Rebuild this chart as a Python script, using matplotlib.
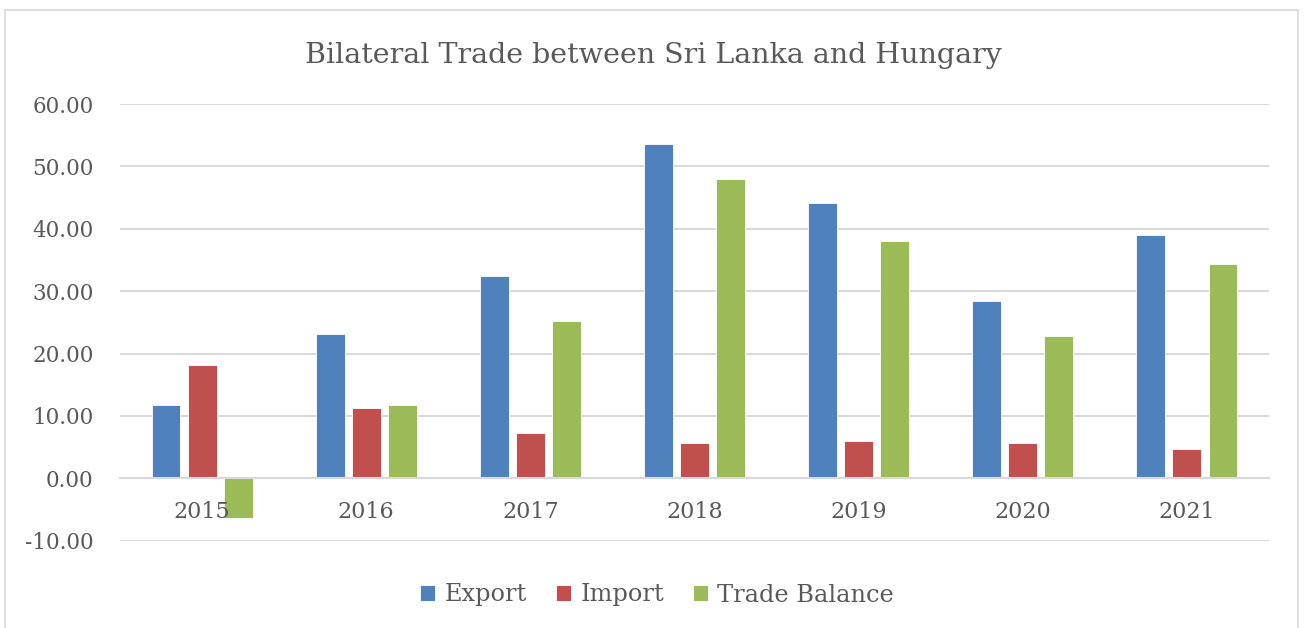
import matplotlib
matplotlib.use("Agg")
import matplotlib.pyplot as plt
from matplotlib.patches import Rectangle
import numpy as np

years = ["2015", "2016", "2017", "2018", "2019", "2020", "2021"]
export = [11.75, 23.1, 32.45, 53.65, 44.1, 28.45, 39.0]
imports = [18.1, 11.3, 7.25, 5.7, 6.05, 5.7, 4.7]
balance = [-6.3, 11.75, 25.2, 48.0, 38.0, 22.8, 34.3]

series = [("Export", export, "#4F81BD"),
          ("Import", imports, "#C0504D"),
          ("Trade Balance", balance, "#9BBB59")]

txt = "#595959"
grid = "#d9d9d9"
plt.rcParams['font.family'] = ['DejaVu Serif']

fig = plt.figure(figsize=(13.06, 6.28), dpi=100)
ax = fig.add_axes([120/1306, 1-540.7/628, 1149/1306, 436.7/628])

x = np.arange(len(years))
w = 0.176
step = 0.22
for i, (name, vals, col) in enumerate(series):
	ax.bar(x + (i - 1) * step, vals, w, color=col, edgecolor="white",
	       linewidth=0.6, label=name, zorder=3)

ax.set_xlim(-0.5, len(years) - 0.5)
ax.set_ylim(-10, 60)
ax.set_yticks(np.arange(-10, 61, 10))
ax.set_yticklabels(["%.2f" % v for v in np.arange(-10, 61, 10)])
ax.set_xticks(x)
ax.set_xticklabels(years)
ax.tick_params(axis="y", length=0, pad=19, labelsize=15.5, labelcolor=txt)
ax.tick_params(axis="x", length=0, pad=16, labelsize=16, labelcolor=txt)
ax.yaxis.grid(True, color=grid, linewidth=1.5, zorder=0)
ax.set_axisbelow(True)
# year labels sit on top of the bars, like in the original
ax.xaxis.set_zorder(5)
for s in ["top", "right", "left"]:
	ax.spines[s].set_visible(False)
ax.spines["bottom"].set_position(("data", 0))
ax.spines["bottom"].set_color(grid)
ax.spines["bottom"].set_linewidth(1.5)
ax.spines["bottom"].set_zorder(4)

fig.text(0.5, 1-62.7/628, "Bilateral Trade between Sri Lanka and Hungary",
         ha="center", va="baseline", fontsize=20.5, color=txt)

fig.legend(loc="center", bbox_to_anchor=(657/1306, 1-595/628), ncol=3,
           frameon=False, fontsize=17.3, labelcolor=txt,
           handlelength=0.62, handleheight=0.62, handletextpad=0.4,
           columnspacing=1.2)

fig.add_artist(Rectangle((5/1306, -0.1), 1293/1306, 1.1 - 10.5/628,
                         transform=fig.transFigure, fill=False,
                         edgecolor=grid, linewidth=1.2))

fig.savefig("out.png", dpi=100)
